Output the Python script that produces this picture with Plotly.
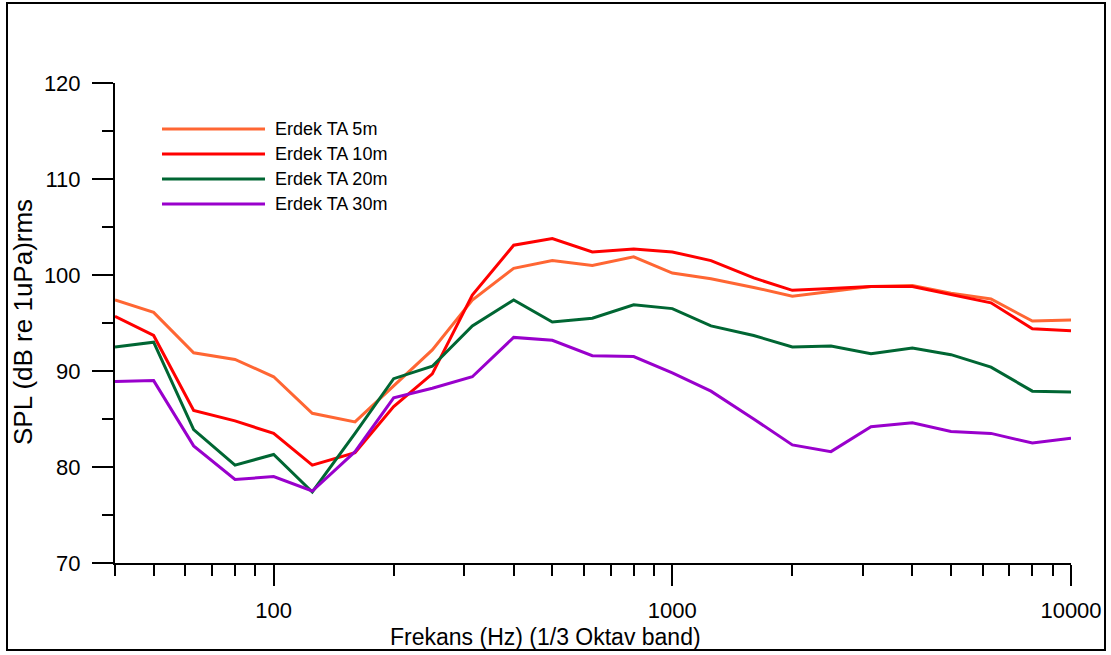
import plotly.graph_objects as go

freqs = [40, 50, 63, 80, 100, 125, 160, 200, 250, 315, 400, 500, 630, 800,
         1000, 1250, 1600, 2000, 2500, 3150, 4000, 5000, 6300, 8000, 10000]

series_names = ["Erdek TA 5m", "Erdek TA 10m", "Erdek TA 20m", "Erdek TA 30m"]

spl_5m = [97.4, 96.1, 91.9, 91.2, 89.4, 85.6, 84.7, 88.5, 92.2, 97.4, 100.7, 101.5, 101.0,
          101.9, 100.2, 99.6, 98.7, 97.8, 98.3, 98.8, 98.9, 98.1, 97.5, 95.2, 95.3]
spl_10m = [95.7, 93.7, 85.9, 84.8, 83.5, 80.2, 81.5, 86.3, 89.7, 97.9, 103.1, 103.8, 102.4,
           102.7, 102.4, 101.5, 99.7, 98.4, 98.6, 98.8, 98.8, 98.0, 97.1, 94.4, 94.2]
spl_20m = [92.5, 93.0, 83.9, 80.2, 81.3, 77.4, 83.5, 89.2, 90.5, 94.7, 97.4, 95.1, 95.5,
           96.9, 96.5, 94.7, 93.7, 92.5, 92.6, 91.8, 92.4, 91.7, 90.4, 87.9, 87.8]
spl_30m = [88.9, 89.0, 82.2, 78.7, 79.0, 77.5, 81.6, 87.2, 88.2, 89.4, 93.5, 93.2, 91.6,
           91.5, 89.8, 87.9, 85.0, 82.3, 81.6, 84.2, 84.6, 83.7, 83.5, 82.5, 83.0]

series_values = [spl_5m, spl_10m, spl_20m, spl_30m]
colors = ["#FF6633", "#FF0000", "#006633", "#9900CC"]

x_major_ticks = [100, 1000, 10000]
x_major_labels = ["100", "1000", "10000"]
x_minor_ticks = [40, 50, 60, 70, 80, 90, 200, 300, 400, 500, 600, 700, 800, 900,
                 2000, 3000, 4000, 5000, 6000, 7000, 8000, 9000]

x_title = "Frekans (Hz) (1/3 Oktav band)"
y_title = "SPL (dB re 1uPa)rms"

FONT = "Liberation Sans, Arial, sans-serif"
W, H = 1111, 655
ML, MR, MT, MB = 115, 40, 83, 92
PW, PH = W - ML - MR, H - MT - MB


def px(x):
    return (x - ML) / PW


def py(y):
    return (H - MB - y) / PH


fig = go.Figure()
for name, vals, col in zip(series_names, series_values, colors):
    fig.add_trace(go.Scatter(x=freqs, y=vals, mode="lines", name=name,
                             line=dict(color=col, width=3), showlegend=False))

shapes = []
annotations = []
# outer frame
shapes.append(dict(type="rect", xref="paper", yref="paper",
                   x0=px(7), x1=px(1105), y0=py(650), y1=py(3),
                   line=dict(color="black", width=2), layer="below"))
# custom legend
leg_y = [129, 154, 179, 204]
for name, col, ly in zip(series_names, colors, leg_y):
    shapes.append(dict(type="line", xref="paper", yref="paper",
                       x0=px(162), x1=px(265), y0=py(ly), y1=py(ly),
                       line=dict(color=col, width=3)))
    annotations.append(dict(text=name, xref="paper", yref="paper",
                            x=px(273), y=py(ly), xanchor="left", yanchor="middle",
                            showarrow=False, font=dict(family=FONT, size=18, color="black")))

annotations.append(dict(text=x_title, xref="paper", yref="paper",
                        x=px(545), y=py(637), xanchor="center", yanchor="middle",
                        showarrow=False, font=dict(family=FONT, size=23, color="black")))
annotations.append(dict(text=y_title, xref="paper", yref="paper",
                        x=px(23), y=py(322), xanchor="center", yanchor="middle",
                        textangle=-90, showarrow=False,
                        font=dict(family=FONT, size=26, color="black")))

fig.update_layout(
    width=W, height=H,
    margin=dict(l=ML, r=MR, t=MT, b=MB, autoexpand=False),
    paper_bgcolor="white", plot_bgcolor="white",
    font=dict(family=FONT, color="black"),
    shapes=shapes, annotations=annotations,
    xaxis=dict(type="log", range=[1.60206, 4.0], showgrid=False, zeroline=False,
               automargin=False,
               showline=True, linecolor="black", linewidth=2,
               tickmode="array", tickvals=x_major_ticks, ticktext=x_major_labels,
               ticks="outside", ticklen=21, tickwidth=2, tickcolor="black",
               ticklabelstandoff=6,
               tickfont=dict(family=FONT, size=22, color="black"),
               minor=dict(tickmode="array", tickvals=x_minor_ticks, ticks="outside",
                          ticklen=11, tickwidth=2, tickcolor="black", showgrid=False)),
    yaxis=dict(range=[70, 120], showgrid=False, zeroline=False,
               automargin=False,
               showline=True, linecolor="black", linewidth=2,
               tickmode="linear", tick0=70, dtick=10,
               ticks="outside", ticklen=21, tickwidth=2, tickcolor="black",
               ticklabelstandoff=7,
               tickfont=dict(family=FONT, size=22, color="black"),
               minor=dict(tickmode="linear", tick0=70, dtick=5, ticks="outside",
                          ticklen=11, tickwidth=2, tickcolor="black", showgrid=False)),
)

fig.write_html("out.html")
